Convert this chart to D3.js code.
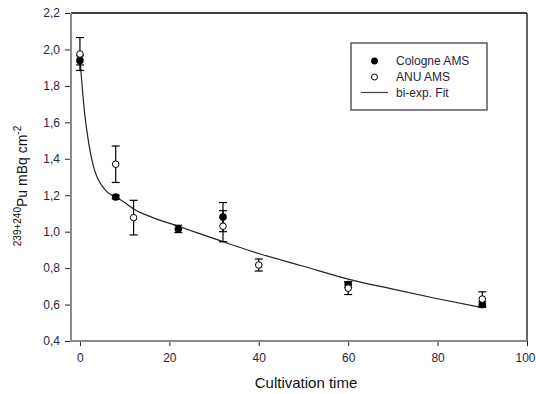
<!DOCTYPE html>
<html>
<head>
<meta charset="utf-8">
<script src="https://cdn.jsdelivr.net/npm/d3@7"></script>
<style>
  body { margin: 0; background: #fff; }
  svg { display: block; font-family: "Liberation Sans", Arial, sans-serif; }
</style>
</head>
<body>
<div id="chart"></div>
<script>
// data
const xTicks = [0, 20, 40, 60, 80, 100];
const yTicks = [0.4, 0.6, 0.8, 1.0, 1.2, 1.4, 1.6, 1.8, 2.0, 2.2];

const cologneTime = [0, 8, 22, 32, 60, 90];
const cologneValue = [1.94, 1.19, 1.015, 1.08, 0.71, 0.60];
const cologneError = [0.025, 0.01, 0.02, 0.08, 0.015, 0.015];

const anuTime = [0, 8, 12, 32, 40, 60, 90];
const anuValue = [1.975, 1.37, 1.077, 1.03, 0.817, 0.69, 0.63];
const anuError = [0.09, 0.10, 0.095, 0.085, 0.033, 0.035, 0.04];

const fitTime = [0, 1, 2, 3, 4, 5, 6, 8, 10, 12, 16, 22, 32, 40, 50, 60, 70, 80, 90];
const fitValue = [1.95, 1.66, 1.48, 1.36, 1.29, 1.25, 1.22, 1.19, 1.16, 1.125, 1.08, 1.03, 0.945, 0.88, 0.81, 0.74, 0.685, 0.632, 0.583];

const legendLabels = ['Cologne AMS', 'ANU AMS', 'bi-exp. Fit'];

const width = 536, height = 394;
const plotLeft = 71, plotRight = 527, plotTop = 13, plotBottom = 341;

const svg = d3.select('#chart')
  .append('svg')
  .attr('width', width)
  .attr('height', height);

const x = d3.scaleLinear().domain([-2, 100]).range([plotLeft, plotRight]);
const y = d3.scaleLinear().domain([0.4, 2.2]).range([plotBottom, plotTop]);

const comma = d => d3.format('.1f')(d).replace('.', ',');
const labelColor = '#26263a';

// frame lines (top and right)
svg.append('line')
  .attr('x1', plotLeft).attr('x2', plotRight).attr('y1', plotTop).attr('y2', plotTop)
  .attr('stroke', '#000').attr('stroke-width', 1.5);
svg.append('line')
  .attr('x1', plotRight).attr('x2', plotRight).attr('y1', plotTop).attr('y2', plotBottom)
  .attr('stroke', '#333').attr('stroke-width', 1.5);

// axes
const yAxis = svg.append('g')
  .attr('transform', `translate(${plotLeft},0)`)
  .call(d3.axisLeft(y).tickValues(yTicks).tickFormat(comma).tickSize(6).tickPadding(5));
const xAxis = svg.append('g')
  .attr('transform', `translate(0,${plotBottom})`)
  .call(d3.axisBottom(x).tickValues(xTicks).tickSize(5).tickPadding(7));

[yAxis, xAxis].forEach(ax => {
  ax.select('.domain').remove();
  ax.selectAll('.tick line').attr('stroke', '#222').attr('stroke-width', 1);
  ax.selectAll('.tick text')
    .attr('fill', labelColor)
    .attr('font-size', 12)
    .attr('font-family', '"Liberation Sans", Arial, sans-serif');
});
// keep the last x label inside the window
xAxis.selectAll('.tick text').filter(d => d === 100).attr('dx', -2);

svg.append('line')
  .attr('x1', plotLeft).attr('x2', plotLeft).attr('y1', plotTop).attr('y2', plotBottom + 1)
  .attr('stroke', '#8a8a8a').attr('stroke-width', 2);
svg.append('line')
  .attr('x1', plotLeft - 1).attr('x2', plotRight).attr('y1', plotBottom).attr('y2', plotBottom)
  .attr('stroke', '#8a8a8a').attr('stroke-width', 2);

// axis titles
svg.append('text')
  .attr('x', 306).attr('y', 388)
  .attr('text-anchor', 'middle')
  .attr('font-size', 15)
  .attr('fill', '#111')
  .text('Cultivation time');

const yTitle = svg.append('text')
  .attr('transform', 'translate(27,186) rotate(-90)')
  .attr('text-anchor', 'middle')
  .attr('fill', '#111')
  .attr('font-size', 14);
yTitle.append('tspan').attr('font-size', 10).attr('dy', -6).text('239+240');
yTitle.append('tspan').attr('dy', 6).text('Pu mBq cm');
yTitle.append('tspan').attr('font-size', 10).attr('dy', -6).text('-2');

// fit curve
const fit = fitTime.map((t, i) => [t, fitValue[i]]);
svg.append('path')
  .datum(fit)
  .attr('fill', 'none')
  .attr('stroke', '#222')
  .attr('stroke-width', 1.2)
  .attr('d', d3.line().x(d => x(d[0])).y(d => y(d[1])).curve(d3.curveMonotoneX));

// error bars
function errorBars(times, values, errors) {
  const g = svg.append('g').attr('stroke', '#000').attr('stroke-width', 1.2);
  times.forEach((t, i) => {
    const cx = x(t), hi = y(values[i] + errors[i]), lo = y(values[i] - errors[i]);
    g.append('line').attr('x1', cx).attr('x2', cx).attr('y1', hi).attr('y2', lo);
    g.append('line').attr('x1', cx - 4).attr('x2', cx + 4).attr('y1', hi).attr('y2', hi);
    g.append('line').attr('x1', cx - 4).attr('x2', cx + 4).attr('y1', lo).attr('y2', lo);
  });
}
errorBars(cologneTime, cologneValue, cologneError);
errorBars(anuTime, anuValue, anuError);

// points
svg.append('g')
  .selectAll('circle')
  .data(cologneTime.map((t, i) => [t, cologneValue[i]]))
  .join('circle')
  .attr('cx', d => x(d[0]))
  .attr('cy', d => y(d[1]))
  .attr('r', 3.8)
  .attr('fill', '#000');

svg.append('g')
  .selectAll('circle')
  .data(anuTime.map((t, i) => [t, anuValue[i]]))
  .join('circle')
  .attr('cx', d => x(d[0]))
  .attr('cy', d => y(d[1]))
  .attr('r', 3.3)
  .attr('fill', '#fff')
  .attr('stroke', '#000')
  .attr('stroke-width', 1);

// legend
const legend = svg.append('g');
legend.append('rect')
  .attr('x', 351).attr('y', 43).attr('width', 136).attr('height', 67)
  .attr('fill', '#fff').attr('stroke', '#333').attr('stroke-width', 1.2);

const legendY = [61, 77, 92.5];
legend.append('circle').attr('cx', 374.5).attr('cy', legendY[0]).attr('r', 3.4).attr('fill', '#000');
legend.append('circle').attr('cx', 374.5).attr('cy', legendY[1]).attr('r', 3)
  .attr('fill', '#fff').attr('stroke', '#000').attr('stroke-width', 1);
legend.append('line').attr('x1', 361).attr('x2', 388).attr('y1', legendY[2]).attr('y2', legendY[2])
  .attr('stroke', '#444').attr('stroke-width', 1.2);

legend.selectAll('text')
  .data(legendLabels)
  .join('text')
  .attr('x', 396)
  .attr('y', (d, i) => legendY[i])
  .attr('dy', '0.36em')
  .attr('font-size', 12)
  .attr('fill', labelColor)
  .text(d => d);
</script>
</body>
</html>
